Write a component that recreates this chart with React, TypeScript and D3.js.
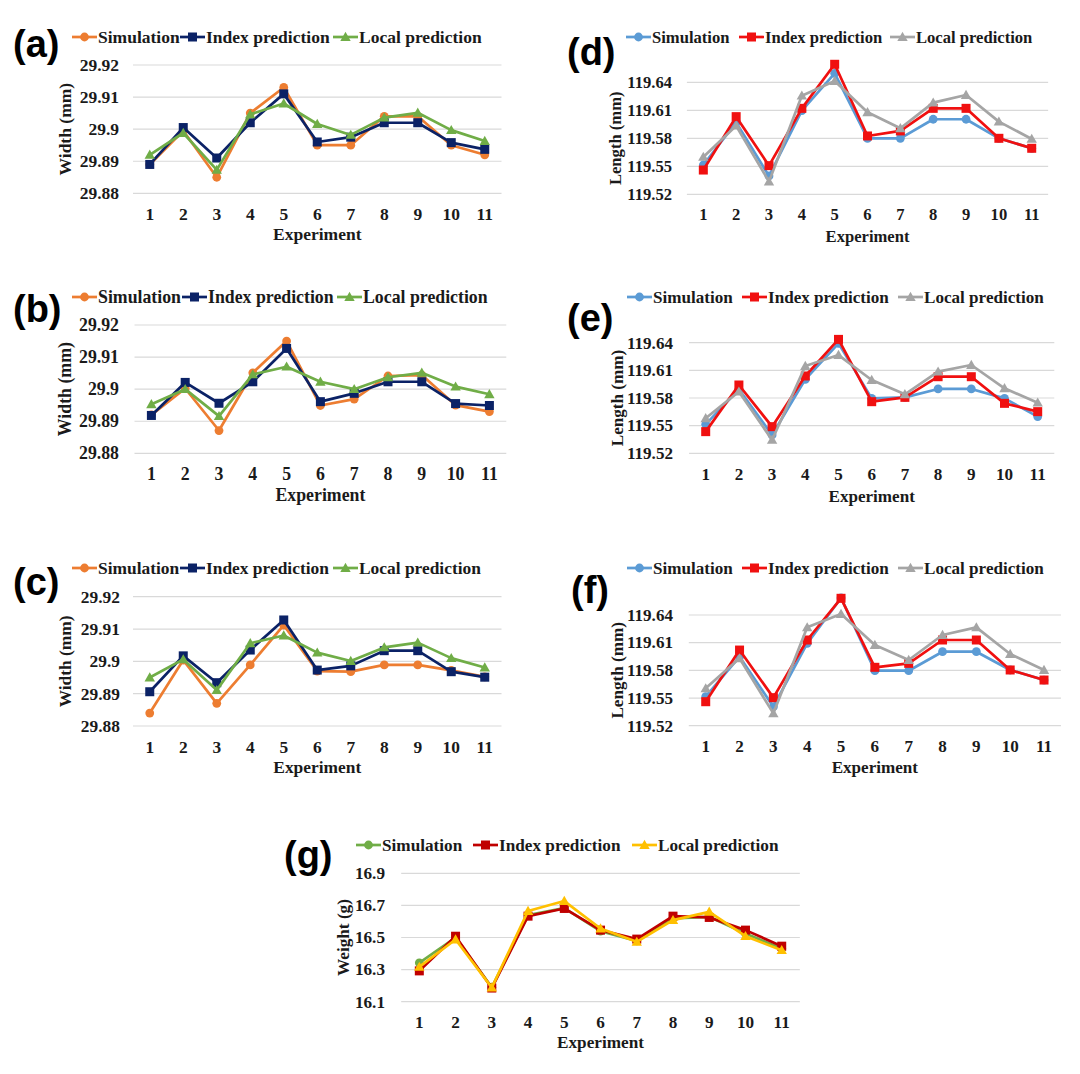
import React from "react";
import * as d3 from "d3";

const experiments = ["1", "2", "3", "4", "5", "6", "7", "8", "9", "10", "11"];
const seriesNames = ["Simulation", "Index prediction", "Local prediction"];

const widthTicks = [29.88, 29.89, 29.9, 29.91, 29.92];
const lengthTicks = [119.52, 119.55, 119.58, 119.61, 119.64];
const weightTicks = [16.1, 16.3, 16.5, 16.7, 16.9];

const aSim = [29.889, 29.8995, 29.885, 29.905, 29.913, 29.895, 29.895, 29.904, 29.904, 29.895, 29.892];
const aIdx = [29.889, 29.9005, 29.891, 29.902, 29.911, 29.896, 29.8975, 29.902, 29.902, 29.8958, 29.8937];
const aLoc = [29.892, 29.8988, 29.8873, 29.9046, 29.908, 29.9016, 29.8982, 29.9036, 29.9051, 29.8997, 29.8963];

const bSim = [29.892, 29.9002, 29.8871, 29.9051, 29.915, 29.8949, 29.8969, 29.9041, 29.9044, 29.895, 29.893];
const bIdx = [29.8918, 29.9021, 29.8956, 29.9023, 29.9127, 29.8961, 29.8987, 29.9023, 29.9023, 29.8955, 29.8949];
const bLoc = [29.8953, 29.9, 29.8916, 29.9046, 29.907, 29.9023, 29.9, 29.9037, 29.9051, 29.9008, 29.8984];

const cSim = [29.884, 29.9004, 29.887, 29.8989, 29.9112, 29.897, 29.8968, 29.8989, 29.8989, 29.8972, 29.8952];
const cIdx = [29.8906, 29.9017, 29.8934, 29.9035, 29.9128, 29.8973, 29.8986, 29.9033, 29.9033, 29.8968, 29.8951];
const cLoc = [29.895, 29.9006, 29.8911, 29.9056, 29.908, 29.9027, 29.9001, 29.9043, 29.9058, 29.901, 29.8981];

const dSim = [119.5514, 119.597, 119.5396, 119.6096, 119.6496, 119.58, 119.58, 119.6004, 119.6004, 119.58, 119.5693];
const dIdx = [119.546, 119.6032, 119.5507, 119.6121, 119.6593, 119.5825, 119.5879, 119.6121, 119.6121, 119.58, 119.5693];
const dLoc = [119.56, 119.5935, 119.5336, 119.6257, 119.6414, 119.6079, 119.5907, 119.6182, 119.6264, 119.5979, 119.5793];

const eSim = [119.5514, 119.5894, 119.5399, 119.6002, 119.6393, 119.5796, 119.5807, 119.5898, 119.5898, 119.5796, 119.5598];
const eIdx = [119.5435, 119.5941, 119.5489, 119.6039, 119.6436, 119.576, 119.5807, 119.6031, 119.6031, 119.5742, 119.5652];
const eLoc = [119.558, 119.5869, 119.5345, 119.6147, 119.6266, 119.5995, 119.584, 119.6086, 119.6158, 119.5905, 119.5749];

const fSim = [119.5514, 119.5948, 119.5406, 119.6093, 119.6585, 119.5796, 119.5796, 119.6002, 119.6002, 119.5804, 119.5695];
const fIdx = [119.546, 119.602, 119.5504, 119.6129, 119.6581, 119.5833, 119.5876, 119.6129, 119.6129, 119.5804, 119.5695];
const fLoc = [119.5605, 119.593, 119.5334, 119.6266, 119.6411, 119.6075, 119.5912, 119.6183, 119.6266, 119.5977, 119.5804];

const gSim = [16.342, 16.5, 16.19, 16.64, 16.683, 16.54, 16.479, 16.619, 16.629, 16.525, 16.431];
const gIdx = [16.292, 16.508, 16.185, 16.633, 16.681, 16.546, 16.49, 16.633, 16.625, 16.546, 16.446];
const gLoc = [16.317, 16.4875, 16.188, 16.665, 16.727, 16.556, 16.473, 16.608, 16.66, 16.508, 16.421];

const widthColors = ["#ED7D31", "#0B2266", "#70AD47"];
const lengthColors = ["#5B9BD5", "#F01010", "#A5A5A5"];
const weightColors = ["#70AD47", "#C00000", "#FFC000"];

type Panel = {
  label: string;
  yTitle: string;
  ticks: number[];
  series: number[][];
  colors: string[];
  x0: number;
  band: number;
  yTopPx: number;
  yBotPx: number;
  legendY: number;
  legendX: number[];
  labelX: number;
  labelY: number;
  tickRight: number;
  yTitleX: number;
  xTickY: number;
  xTitleY: number;
  fs: number;
  tickFmt: (v: number) => string;
};

const fmtW = (v: number) => String(+v.toFixed(2));
const fmtL = (v: number) => v.toFixed(2);
const fmtG = (v: number) => v.toFixed(1);

const panels: Panel[] = [
  { label: "(a)", yTitle: "Width (mm)", ticks: widthTicks, series: [aSim, aIdx, aLoc], colors: widthColors,
    x0: 133, band: 33.5, yTopPx: 65, yBotPx: 193.3, legendY: 37, legendX: [72, 180, 333],
    labelX: 13, labelY: 57, tickRight: 119, yTitleX: 65, xTickY: 220, xTitleY: 240, fs: 17.5, tickFmt: fmtW },
  { label: "(b)", yTitle: "Width (mm)", ticks: widthTicks, series: [bSim, bIdx, bLoc], colors: widthColors,
    x0: 134.5, band: 33.8, yTopPx: 325, yBotPx: 453.3, legendY: 297, legendX: [72, 182, 337],
    labelX: 13, labelY: 322, tickRight: 119, yTitleX: 65, xTickY: 480, xTitleY: 501, fs: 17.8, tickFmt: fmtW },
  { label: "(c)", yTitle: "Width (mm)", ticks: widthTicks, series: [cSim, cIdx, cLoc], colors: widthColors,
    x0: 133, band: 33.5, yTopPx: 596.7, yBotPx: 726, legendY: 568, legendX: [72, 180, 333],
    labelX: 13, labelY: 595, tickRight: 120, yTitleX: 65, xTickY: 753, xTitleY: 773, fs: 17.4, tickFmt: fmtW },
  { label: "(d)", yTitle: "Length (mm)", ticks: lengthTicks, series: [dSim, dIdx, dLoc], colors: lengthColors,
    x0: 686.9, band: 32.84, yTopPx: 82.3, yBotPx: 194.3, legendY: 37, legendX: [626, 739, 890],
    labelX: 567, labelY: 65, tickRight: 672, yTitleX: 615, xTickY: 220, xTitleY: 242, fs: 16.6, tickFmt: fmtL },
  { label: "(e)", yTitle: "Length (mm)", ticks: lengthTicks, series: [eSim, eIdx, eLoc], colors: lengthColors,
    x0: 689.1, band: 33.2, yTopPx: 342.7, yBotPx: 453.3, legendY: 297, legendX: [627, 742, 898],
    labelX: 567, labelY: 331, tickRight: 673, yTitleX: 617, xTickY: 480, xTitleY: 502, fs: 17.1, tickFmt: fmtL },
  { label: "(f)", yTitle: "Length (mm)", ticks: lengthTicks, series: [fSim, fIdx, fLoc], colors: lengthColors,
    x0: 688.8, band: 33.83, yTopPx: 615, yBotPx: 725.7, legendY: 568, legendX: [627, 742, 898],
    labelX: 571, labelY: 603, tickRight: 673, yTitleX: 617, xTickY: 752, xTitleY: 773, fs: 17.1, tickFmt: fmtL },
  { label: "(g)", yTitle: "Weight (g)", ticks: weightTicks, series: [gSim, gIdx, gLoc], colors: weightColors,
    x0: 401.2, band: 36.24, yTopPx: 873.3, yBotPx: 1001.7, legendY: 845, legendX: [356, 473, 632],
    labelX: 284, labelY: 868, tickRight: 385, yTitleX: 343, xTickY: 1028, xTitleY: 1048, fs: 17.2, tickFmt: fmtG },
];

const SERIF = "'Liberation Serif', 'Times New Roman', serif";
const SANS = "'Liberation Sans', Arial, sans-serif";

function Marker({ kind, x, y, color }: { kind: number; x: number; y: number; color: string }) {
  if (kind === 0) return <circle cx={x} cy={y} r={4.4} fill={color} />;
  if (kind === 1) return <rect x={x - 4.5} y={y - 4.5} width={9} height={9} fill={color} />;
  const s = 5.2;
  return <path d={`M${x},${y - s} L${x + s},${y + s * 0.75} L${x - s},${y + s * 0.75} Z`} fill={color} />;
}

function ChartPanel({ p }: { p: Panel }) {
  const x = d3.scaleBand<string>().domain(experiments).range([p.x0, p.x0 + p.band * experiments.length]).padding(0);
  const lo = p.ticks[0];
  const hi = p.ticks[p.ticks.length - 1];
  const y = d3.scaleLinear().domain([lo, hi]).range([p.yBotPx, p.yTopPx]);
  const cx = (c: string) => (x(c) as number) + x.bandwidth() / 2;
  const line = d3.line<number>().x((_, i) => cx(experiments[i])).y((v) => y(v));
  const [r0, r1] = x.range();
  const txt = { fontFamily: SERIF, fontWeight: "bold" as const, fontSize: p.fs, fill: "#1a1a1a" };
  return (
    <g>
      {p.ticks.map((t) => (
        <g key={t}>
          <line x1={r0} x2={r1} y1={y(t)} y2={y(t)} stroke="#D9D9D9" strokeWidth={1.2} />
          <text x={p.tickRight} y={y(t)} dy="0.34em" textAnchor="end" {...txt}>
            {p.tickFmt(t)}
          </text>
        </g>
      ))}
      {experiments.map((c) => (
        <text key={c} x={cx(c)} y={p.xTickY} textAnchor="middle" {...txt}>
          {c}
        </text>
      ))}
      <text x={(r0 + r1) / 2} y={p.xTitleY} textAnchor="middle" {...txt}>
        Experiment
      </text>
      <text transform={`translate(${p.yTitleX},${(p.yTopPx + p.yBotPx) / 2}) rotate(-90)`} dy="0.34em" textAnchor="middle" {...txt}>
        {p.yTitle}
      </text>
      {p.series.map((vals, si) => (
        <g key={si}>
          <path d={line(vals) || ""} fill="none" stroke={p.colors[si]} strokeWidth={2.7} strokeLinejoin="round" />
          {vals.map((v, i) => (
            <Marker key={i} kind={si} x={cx(experiments[i])} y={y(v)} color={p.colors[si]} />
          ))}
        </g>
      ))}
      {seriesNames.map((n, si) => (
        <g key={n}>
          <line x1={p.legendX[si]} x2={p.legendX[si] + 25} y1={p.legendY} y2={p.legendY} stroke={p.colors[si]} strokeWidth={2.7} />
          <Marker kind={si} x={p.legendX[si] + 12.5} y={p.legendY} color={p.colors[si]} />
          <text x={p.legendX[si] + 26} y={p.legendY} dy="0.34em" {...txt}>
            {n}
          </text>
        </g>
      ))}
      <text x={p.labelX} y={p.labelY} fontFamily={SANS} fontWeight="bold" fontSize={38} fill="#000">
        {p.label}
      </text>
    </g>
  );
}

export default function App() {
  return (
    <div style={{ position: "absolute", left: 0, top: 0, width: 1080, height: 1074, background: "#fff" }}>
      <svg width={1080} height={1074} viewBox="0 0 1080 1074" style={{ display: "block" }}>
        <rect width={1080} height={1074} fill="#fff" />
        {panels.map((p) => (
          <ChartPanel key={p.label} p={p} />
        ))}
      </svg>
    </div>
  );
}
